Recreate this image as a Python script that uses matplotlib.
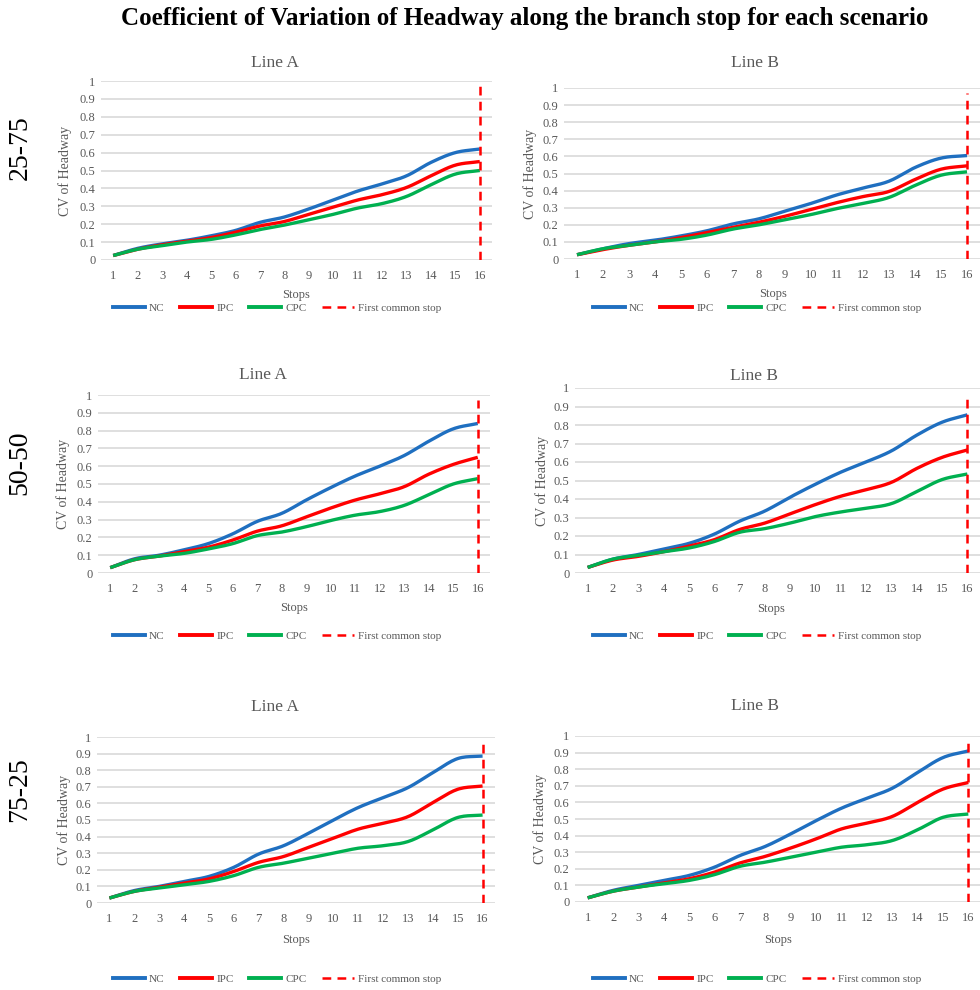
import numpy as np
import matplotlib
matplotlib.use('Agg')
import matplotlib.pyplot as plt
from matplotlib.lines import Line2D

plt.rcParams['font.family'] = ['Liberation Serif', 'DejaVu Serif']

# Data
stops = list(range(1, 17))
scenarios = ['25-75', '50-50', '75-25']

nc_2575_a = [0.025, 0.065, 0.09, 0.11, 0.135, 0.165, 0.21, 0.24, 0.285, 0.335, 0.385, 0.425, 0.47, 0.545, 0.60, 0.62]
ipc_2575_a = [0.025, 0.06, 0.085, 0.105, 0.125, 0.155, 0.19, 0.215, 0.255, 0.295, 0.335, 0.365, 0.405, 0.47, 0.53, 0.55]
cpc_2575_a = [0.025, 0.06, 0.08, 0.10, 0.115, 0.14, 0.17, 0.195, 0.225, 0.255, 0.29, 0.315, 0.355, 0.42, 0.48, 0.50]

nc_2575_b = [0.025, 0.06, 0.09, 0.11, 0.135, 0.165, 0.205, 0.235, 0.28, 0.325, 0.375, 0.415, 0.455, 0.535, 0.59, 0.605]
ipc_2575_b = [0.025, 0.055, 0.08, 0.10, 0.125, 0.155, 0.185, 0.215, 0.25, 0.29, 0.33, 0.365, 0.395, 0.465, 0.525, 0.545]
cpc_2575_b = [0.025, 0.06, 0.08, 0.10, 0.115, 0.14, 0.175, 0.20, 0.23, 0.26, 0.295, 0.325, 0.36, 0.43, 0.49, 0.51]

nc_5050_a = [0.03, 0.08, 0.10, 0.13, 0.165, 0.22, 0.29, 0.335, 0.41, 0.48, 0.545, 0.60, 0.66, 0.74, 0.81, 0.84]
ipc_5050_a = [0.03, 0.075, 0.095, 0.12, 0.145, 0.185, 0.235, 0.265, 0.315, 0.365, 0.41, 0.445, 0.485, 0.555, 0.61, 0.65]
cpc_5050_a = [0.03, 0.075, 0.095, 0.11, 0.135, 0.165, 0.21, 0.23, 0.26, 0.295, 0.325, 0.345, 0.38, 0.44, 0.50, 0.53]

nc_5050_b = [0.03, 0.075, 0.10, 0.13, 0.16, 0.21, 0.28, 0.335, 0.41, 0.48, 0.545, 0.60, 0.66, 0.745, 0.815, 0.855]
ipc_5050_b = [0.03, 0.07, 0.09, 0.115, 0.145, 0.18, 0.235, 0.27, 0.32, 0.37, 0.415, 0.45, 0.49, 0.565, 0.625, 0.665]
cpc_5050_b = [0.03, 0.075, 0.095, 0.115, 0.135, 0.17, 0.22, 0.24, 0.27, 0.305, 0.33, 0.35, 0.375, 0.44, 0.505, 0.535]

nc_7525_a = [0.03, 0.075, 0.10, 0.13, 0.16, 0.215, 0.295, 0.345, 0.42, 0.50, 0.575, 0.635, 0.695, 0.785, 0.87, 0.885]
ipc_7525_a = [0.03, 0.07, 0.095, 0.12, 0.145, 0.19, 0.245, 0.28, 0.335, 0.39, 0.445, 0.48, 0.52, 0.605, 0.685, 0.705]
cpc_7525_a = [0.03, 0.07, 0.09, 0.11, 0.13, 0.165, 0.215, 0.24, 0.27, 0.30, 0.33, 0.345, 0.37, 0.44, 0.515, 0.53]

nc_7525_b = [0.025, 0.07, 0.10, 0.13, 0.16, 0.21, 0.28, 0.335, 0.41, 0.49, 0.565, 0.625, 0.685, 0.78, 0.87, 0.91]
ipc_7525_b = [0.025, 0.065, 0.09, 0.115, 0.14, 0.18, 0.235, 0.275, 0.325, 0.38, 0.44, 0.475, 0.515, 0.60, 0.68, 0.72]
cpc_7525_b = [0.025, 0.065, 0.09, 0.11, 0.13, 0.165, 0.215, 0.24, 0.27, 0.30, 0.33, 0.345, 0.37, 0.435, 0.51, 0.53]

first_common_stop = 16
vline_top = 0.97

series_names = ['NC', 'IPC', 'CPC']
colors = ['#1f6fc0', '#ff0000', '#00b050']

panels = [
    [(nc_2575_a, ipc_2575_a, cpc_2575_a), (nc_2575_b, ipc_2575_b, cpc_2575_b)],
    [(nc_5050_a, ipc_5050_a, cpc_5050_a), (nc_5050_b, ipc_5050_b, cpc_5050_b)],
    [(nc_7525_a, ipc_7525_a, cpc_7525_a), (nc_7525_b, ipc_7525_b, cpc_7525_b)],
]

W, H = 980, 990
# axes boxes in pixels: (x_left, x_right, y_top, y_bottom)
boxes = [
    [(101, 492, 81, 260), (564, 980, 88, 259)],
    [(98, 490, 395, 573), (575, 980, 388, 573)],
    [(97, 495, 737, 903), (575, 981, 736, 902)],
]
title_pos = [[(275, 63), (755, 63)], [(263, 375), (754, 376)], [(275, 707), (755, 706)]]
stops_pos = [[(296, 295), (773, 294)], [(294, 608), (771, 609)], [(296, 940), (778, 940)]]
legend_pos = [[(277, 308), (757, 308)], [(277, 636), (757, 636)], [(277, 979), (757, 979)]]
ylabel_x = [[65, 530], [63, 542], [64, 540]]
row_label_y = [148, 463, 790]


def smooth(x, y, n=12):
    # Catmull-Rom style curve like Excel's smoothed lines
    x = np.asarray(x, float)
    y = np.asarray(y, float)
    px = np.concatenate([[2 * x[0] - x[1]], x, [2 * x[-1] - x[-2]]])
    py = np.concatenate([[2 * y[0] - y[1]], y, [2 * y[-1] - y[-2]]])
    xs, ys = [], []
    t = np.linspace(0, 1, n, endpoint=False)
    for i in range(1, len(px) - 2):
        for p, out in ((px, xs), (py, ys)):
            p0, p1, p2, p3 = p[i - 1], p[i], p[i + 1], p[i + 2]
            out.extend(0.5 * (2 * p1 + (-p0 + p2) * t + (2 * p0 - 5 * p1 + 4 * p2 - p3) * t ** 2
                              + (-p0 + 3 * p1 - 3 * p2 + p3) * t ** 3))
    xs.append(x[-1])
    ys.append(y[-1])
    return xs, ys


fig = plt.figure(figsize=(W / 100, H / 100), dpi=100)
fig.text(525 / W, 1 - 18 / H, 'Coefficient of Variation of Headway along the branch stop for each scenario',
         ha='center', va='center', fontsize=18, fontweight='bold')

gray = '#595959'
for r in range(3):
    fig.text(20 / W, 1 - row_label_y[r] / H, scenarios[r], rotation=90, ha='center', va='center', fontsize=20)
    for c in range(2):
        x0, x1, yt, yb = boxes[r][c]
        ax = fig.add_axes([x0 / W, 1 - yb / H, (x1 - x0) / W, (yb - yt) / H])
        for vals, col in zip(panels[r][c], colors):
            sx, sy = smooth(stops, vals)
            ax.plot(sx, sy, color=col, lw=2.4, solid_capstyle='butt', zorder=3)
        ax.plot([first_common_stop, first_common_stop], [0, vline_top], color='#ff0000', lw=1.8,
                ls=(0, (3.5, 2.5)), zorder=4)
        ax.set_xlim(0.5, 16.5)
        ax.set_ylim(0, 1)
        ax.set_xticks(stops)
        ax.set_yticks(np.arange(0, 1.01, 0.1))
        ax.set_yticklabels(['0'] + ['%.1f' % v for v in np.arange(0.1, 0.95, 0.1)] + ['1'])
        ax.yaxis.grid(True, color='#d9d9d9', lw=1.2)
        ax.set_axisbelow(True)
        for s in ax.spines.values():
            s.set_visible(False)
        ax.tick_params(length=0, labelsize=9, colors=gray, pad=4)
        ax.tick_params(axis='x', pad=7)
        tx, ty = title_pos[r][c]
        fig.text(tx / W, 1 - ty / H, 'Line A' if c == 0 else 'Line B',
                 ha='center', va='center', fontsize=12.5, color=gray)
        sx_, sy_ = stops_pos[r][c]
        fig.text(sx_ / W, 1 - sy_ / H, 'Stops', ha='center', va='center', fontsize=9, color=gray)
        fig.text(ylabel_x[r][c] / W, 1 - (yt + yb) / 2 / H, 'CV of Headway', rotation=90,
                 ha='center', va='center', fontsize=10, color=gray)
        handles = [Line2D([], [], color=col, lw=2.8) for col in colors]
        handles.append(Line2D([], [], color='#ff0000', lw=1.8, ls=(0, (3.5, 2.5))))
        lx, ly = legend_pos[r][c]
        leg = ax.legend(handles, series_names + ['First common stop'], loc='center',
                        bbox_to_anchor=(lx / W, 1 - ly / H),
                        bbox_transform=fig.transFigure, ncol=4, frameon=False, fontsize=8,
                        handlelength=2.9, handletextpad=0.35, columnspacing=1.4)
        for t in leg.get_texts():
            t.set_color(gray)

fig.savefig('out.png', dpi=100)
